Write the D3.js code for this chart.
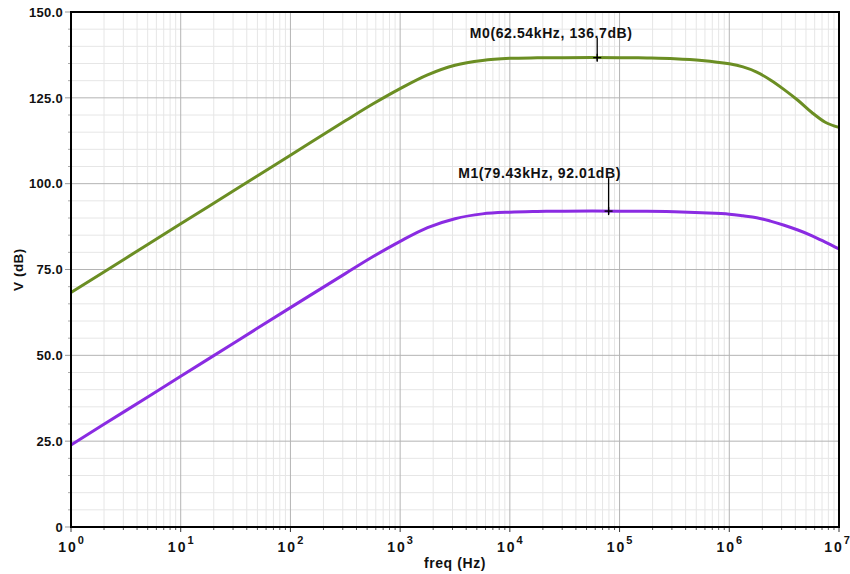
<!DOCTYPE html>
<html>
<head>
<meta charset="utf-8">
<script src="https://cdn.jsdelivr.net/npm/d3@7"></script>
<style>
  body { margin: 0; background: #fff; }
  svg text { font-family: "Liberation Sans", Arial, sans-serif; font-weight: bold; fill: #111; }
</style>
</head>
<body>
<div id="chart"></div>
<script>

// data
var freqHz = [1, 3.162, 10, 31.62, 100, 316.2, 562.3, 1000, 1778, 3162, 5623, 1e4, 1.778e4, 3.162e4,
  1e5, 1.778e5, 3.162e5, 5.623e5, 1e6, 1.334e6, 1.778e6, 2.371e6, 3.162e6, 4.217e6, 5.623e6, 7.499e6, 1e7];
var seriesM0 = [68.3, 78.3, 88.3, 98.3, 108.3, 118.3, 123.2, 127.7, 131.7, 134.5, 135.9, 136.5, 136.65, 136.7,
  136.7, 136.6, 136.4, 135.9, 134.9, 134.0, 132.5, 130.2, 127.4, 124.3, 120.8, 117.9, 116.4];
var seriesM1 = [23.9, 33.9, 43.9, 53.9, 63.9, 73.8, 78.7, 83.2, 87.2, 89.8, 91.2, 91.7, 91.9, 92.0,
  92.0, 91.95, 91.8, 91.5, 91.1, 90.65, 90.1, 89.1, 87.9, 86.5, 84.9, 83.0, 81.0];
var seriesColors = ['#6b8e23', '#8a2be2'];

var markerNames = ['M0', 'M1'];
var markerFreqLabel = ['62.54kHz', '79.43kHz'];
var markerFreq = [62540, 79430];
var markerDb = [136.7, 92.01];

var yTicks = [0, 25, 50, 75, 100, 125, 150];
var xDecades = [0, 1, 2, 3, 4, 5, 6, 7];

// layout
var attrs = {
  svgWidth: 850,
  svgHeight: 574,
  marginTop: 12,
  marginLeft: 71,
  marginRight: 11,
  marginBottom: 47
};
var labelOffset = [{ dx: -46, dy: -20 }, { dx: -69, dy: -33 }];

var calc = {};
calc.w = attrs.svgWidth - attrs.marginLeft - attrs.marginRight;
calc.h = attrs.svgHeight - attrs.marginTop - attrs.marginBottom;

var svg = d3.select('#chart').append('svg')
  .attr('width', attrs.svgWidth)
  .attr('height', attrs.svgHeight);

var chart = svg.append('g')
  .attr('transform', 'translate(' + attrs.marginLeft + ',' + attrs.marginTop + ')');

var xScale = d3.scaleLog().domain([1, 1e7]).range([0, calc.w]);
var yScale = d3.scaleLinear().domain([0, 150]).range([calc.h, 0]);

// minor values
var xMinor = [];
xDecades.slice(0, -1).forEach(function (d) {
  for (var k = 2; k <= 9; k++) xMinor.push(k * Math.pow(10, d));
});
var yMinor = d3.range(0, 151, 5).filter(function (v) { return v % 25 !== 0; });

// grid
var grid = chart.append('g').attr('class', 'grid');
grid.selectAll('.xminor').data(xMinor).enter().append('line')
  .attr('x1', function (d) { return xScale(d); }).attr('x2', function (d) { return xScale(d); })
  .attr('y1', 0).attr('y2', calc.h)
  .attr('stroke', '#e6e6e6').attr('stroke-width', 1);
grid.selectAll('.yminor').data(yMinor).enter().append('line')
  .attr('x1', 0).attr('x2', calc.w)
  .attr('y1', function (d) { return yScale(d); }).attr('y2', function (d) { return yScale(d); })
  .attr('stroke', '#e6e6e6').attr('stroke-width', 1);
grid.selectAll('.xmajor').data(xDecades).enter().append('line')
  .attr('x1', function (d) { return xScale(Math.pow(10, d)); }).attr('x2', function (d) { return xScale(Math.pow(10, d)); })
  .attr('y1', 0).attr('y2', calc.h)
  .attr('stroke', '#b4b4b4').attr('stroke-width', 1);
grid.selectAll('.ymajor').data(yTicks).enter().append('line')
  .attr('x1', 0).attr('x2', calc.w)
  .attr('y1', function (d) { return yScale(d); }).attr('y2', function (d) { return yScale(d); })
  .attr('stroke', '#b4b4b4').attr('stroke-width', 1);

// axes ticks
var yAxis = chart.append('g');
yAxis.selectAll('.ytick').data(yTicks).enter().append('line')
  .attr('x1', -6).attr('x2', 0)
  .attr('y1', function (d) { return yScale(d); }).attr('y2', function (d) { return yScale(d); })
  .attr('stroke', '#999');
yAxis.selectAll('.ymt').data(yMinor).enter().append('line')
  .attr('x1', -3).attr('x2', 0)
  .attr('y1', function (d) { return yScale(d); }).attr('y2', function (d) { return yScale(d); })
  .attr('stroke', '#aaa');
yAxis.selectAll('.ylab').data(yTicks).enter().append('text')
  .attr('x', -8)
  .attr('y', function (d) { return yScale(d); })
  .attr('dy', '0.36em')
  .attr('text-anchor', 'end')
  .attr('font-size', '13px')
  .attr('letter-spacing', '0.3px')
  .text(function (d) { return d === 0 ? '0' : d.toFixed(1); });

var xAxis = chart.append('g').attr('transform', 'translate(0,' + calc.h + ')');
xAxis.selectAll('.xtick').data(xDecades).enter().append('line')
  .attr('x1', function (d) { return xScale(Math.pow(10, d)); }).attr('x2', function (d) { return xScale(Math.pow(10, d)); })
  .attr('y1', 0).attr('y2', 5)
  .attr('stroke', '#333');
xAxis.selectAll('.xmt').data(xMinor).enter().append('line')
  .attr('x1', function (d) { return xScale(d); }).attr('x2', function (d) { return xScale(d); })
  .attr('y1', 0).attr('y2', 3)
  .attr('stroke', '#555');
var xlab = xAxis.selectAll('.xlab').data(xDecades).enter().append('text')
  .attr('x', function (d) { return xScale(Math.pow(10, d)) - (d === 7 ? 2 : 0); })
  .attr('y', 25)
  .attr('text-anchor', 'middle')
  .attr('font-size', '14px');
xlab.append('tspan').attr('letter-spacing', '2px').text('10');
xlab.append('tspan').attr('dy', -8).attr('font-size', '11px').text(function (d) { return d; });

// axis titles
svg.append('text')
  .attr('x', attrs.marginLeft + calc.w / 2)
  .attr('y', 568)
  .attr('text-anchor', 'middle')
  .attr('font-size', '14px')
  .attr('letter-spacing', '0.6px')
  .text('freq (Hz)');
svg.append('text')
  .attr('transform', 'translate(23,' + (attrs.marginTop + calc.h / 2) + ') rotate(-90)')
  .attr('text-anchor', 'middle')
  .attr('font-size', '13.5px')
  .attr('letter-spacing', '0.5px')
  .text('V (dB)');

// curves
var line = d3.line()
  .x(function (d) { return xScale(d[0]); })
  .y(function (d) { return yScale(d[1]); })
  .curve(d3.curveCatmullRom.alpha(0.5));

[seriesM0, seriesM1].forEach(function (s, i) {
  chart.append('path')
    .datum(freqHz.map(function (f, j) { return [f, s[j]]; }))
    .attr('fill', 'none')
    .attr('stroke', seriesColors[i])
    .attr('stroke-width', 3)
    .attr('d', line);
});

// frame
chart.append('rect')
  .attr('x', 0).attr('y', 0).attr('width', calc.w).attr('height', calc.h)
  .attr('fill', 'none').attr('stroke', '#000').attr('stroke-width', 2);

// markers
markerNames.forEach(function (name, i) {
  var mx = xScale(markerFreq[i]);
  var my = yScale(markerDb[i]);
  var g = chart.append('g');
  g.append('line').attr('x1', mx).attr('x2', mx)
    .attr('y1', my + labelOffset[i].dy).attr('y2', my + 3)
    .attr('stroke', '#000').attr('stroke-width', 1.3);
  g.append('line').attr('x1', mx - 4).attr('x2', mx + 4)
    .attr('y1', my).attr('y2', my)
    .attr('stroke', '#000').attr('stroke-width', 1.3);
  g.append('line').attr('x1', mx).attr('x2', mx)
    .attr('y1', my - 4).attr('y2', my + 4)
    .attr('stroke', '#000').attr('stroke-width', 1.3);
  g.append('text')
    .attr('x', mx + labelOffset[i].dx)
    .attr('y', my + labelOffset[i].dy)
    .attr('text-anchor', 'middle')
    .attr('font-size', '14px')
    .attr('letter-spacing', '0.6px')
    .text(name + '(' + markerFreqLabel[i] + ', ' + markerDb[i] + 'dB)');
});
</script>
</body>
</html>
